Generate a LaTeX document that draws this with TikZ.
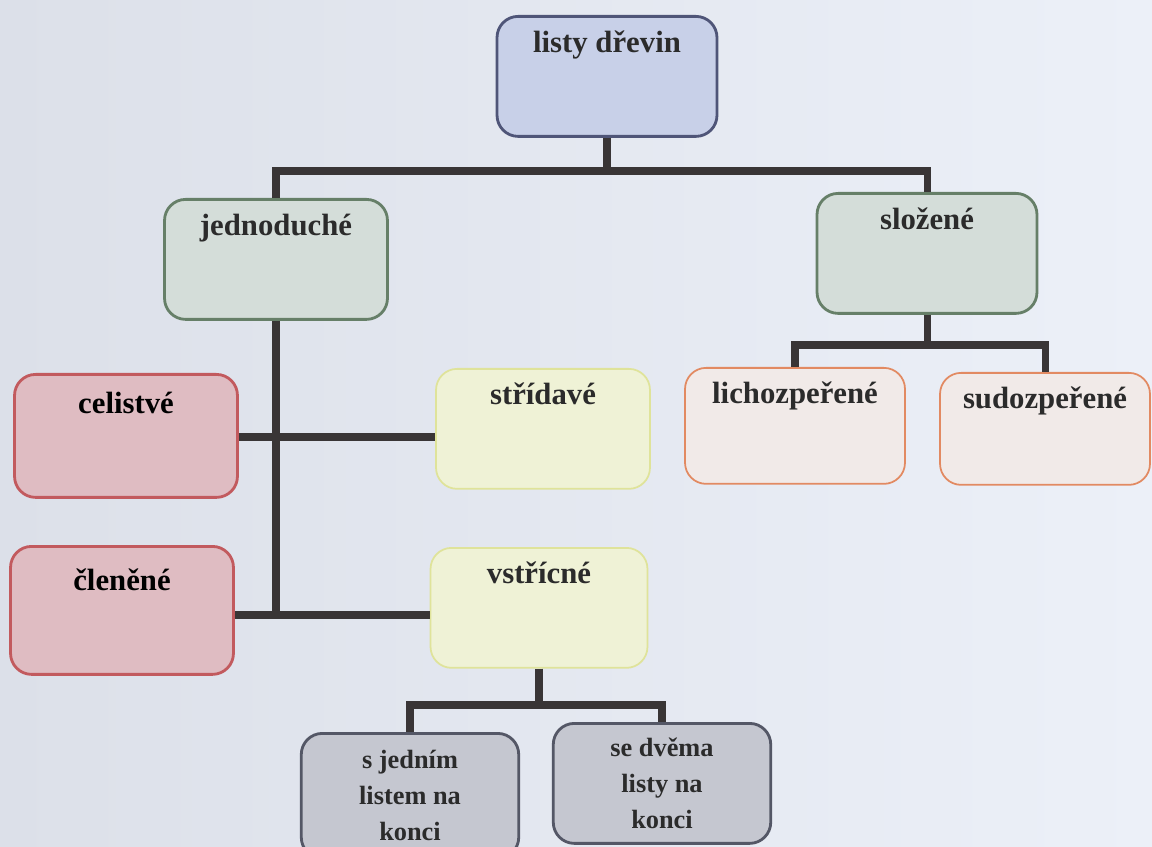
\documentclass[tikz,border=0pt]{standalone}
\usepackage{fontspec}
\setmainfont{Liberation Serif}
\definecolor{bgl}{HTML}{DCE0E9}
\definecolor{bgr}{HTML}{ECF0F8}
\definecolor{rootfill}{HTML}{C8D0E8}
\definecolor{rootline}{HTML}{4F5578}
\definecolor{kindfill}{HTML}{D4DDD9}
\definecolor{kindline}{HTML}{667F68}
\definecolor{shapefill}{HTML}{DFBCC2}
\definecolor{shapeline}{HTML}{C25A5E}
\definecolor{posfill}{HTML}{EFF2D6}
\definecolor{posline}{HTML}{DFE39A}
\definecolor{pinnfill}{HTML}{F1EAE8}
\definecolor{pinnline}{HTML}{E28A62}
\definecolor{endfill}{HTML}{C5C7D0}
\definecolor{endline}{HTML}{545766}
\definecolor{linkc}{HTML}{393536}
\definecolor{txt}{HTML}{2B2B2B}
\begin{document}
\begin{tikzpicture}[x=0.02cm,y=-0.02cm,line join=miter,
	font=\fontsize{17.5}{21}\selectfont\bfseries,
	box/.style={anchor=north,rounded corners=12pt,line width=1.6pt,inner sep=0pt,
		minimum width=4.4cm,text height=.72cm,text depth=1.68cm,text=txt},
	rootbox/.style={box,draw=rootline,fill=rootfill},
	kindbox/.style={box,draw=kindline,fill=kindfill},
	shapebox/.style={box,draw=shapeline,fill=shapefill,text=black},
	posbox/.style={box,line width=1pt,draw=posline,fill=posfill},
	pinnbox/.style={box,line width=1pt,draw=pinnline,fill=pinnfill},
	endbox/.style={anchor=north,rounded corners=12pt,line width=1.6pt,draw=endline,fill=endfill,
		minimum width=4.35cm,minimum height=2.4cm,align=center,text=txt,
		font=\fontsize{15}{20.5}\selectfont\bfseries},
	link/.style={line width=4pt,draw=linkc}]
			\def\W{1152} \def\H{847}
			\useasboundingbox (0,0) rectangle (\W,\H);
			\fill[left color=bgl,right color=bgr] (0,0) rectangle (\W,\H);
			\clip (0,0) rectangle (\W,\H);
			\node[rootbox] (root) at (607,15) {listy dřevin};
			\node[kindbox,minimum width=4.46cm] (jedn) at (276,198) {jednoduché};
			\node[kindbox] (slozene) at (927,192) {složené};
			\node[shapebox,minimum width=4.46cm,text height=.78cm] (celistve) at (126,373) {celistvé};
			\node[shapebox,minimum width=4.46cm,text height=.88cm] (clenene) at (122,545) {členěné};
			\node[posbox,minimum width=4.28cm] (stridave) at (543,368) {střídavé};
			\node[posbox,minimum width=4.34cm] (vstricne) at (539,547) {vstřícné};
			\node[pinnbox,text depth=1.6cm] (licho) at (795,367) {lichozpeřené};
			\node[pinnbox,minimum width=4.2cm,text depth=1.52cm] (sudo) at (1045,372) {sudozpeřené};
			\node[endbox,minimum height=2.5cm] (jednim) at (410,732) {s jedním\\listem na\\konci};
			\node[endbox] (dvema) at (662,722) {se dvěma\\listy na\\konci};
			\coordinate (top) at (607,171);
			\coordinate (mid) at (927,345);
			\coordinate (alt) at (276,437);
			\coordinate (opp) at (276,615);
			\coordinate (low) at (539,705);
			\draw[link] (root.south) -- (top);
			\draw[link] (jedn.north) |- (top) -| (slozene.north);
			\draw[link] (slozene.south) -- (mid);
			\draw[link] (licho.north) |- (mid) -| (sudo.north);
			\draw[link] (jedn.south) -- (opp);
			\draw[link] (celistve.east |- alt) -- (stridave.west |- alt);
			\draw[link] (clenene.east |- opp) -- (vstricne.west |- opp);
			\draw[link] (vstricne.south) -- (low);
			\draw[link] (jednim.north) |- (low) -| (dvema.north);
	\end{tikzpicture}
\end{document}
